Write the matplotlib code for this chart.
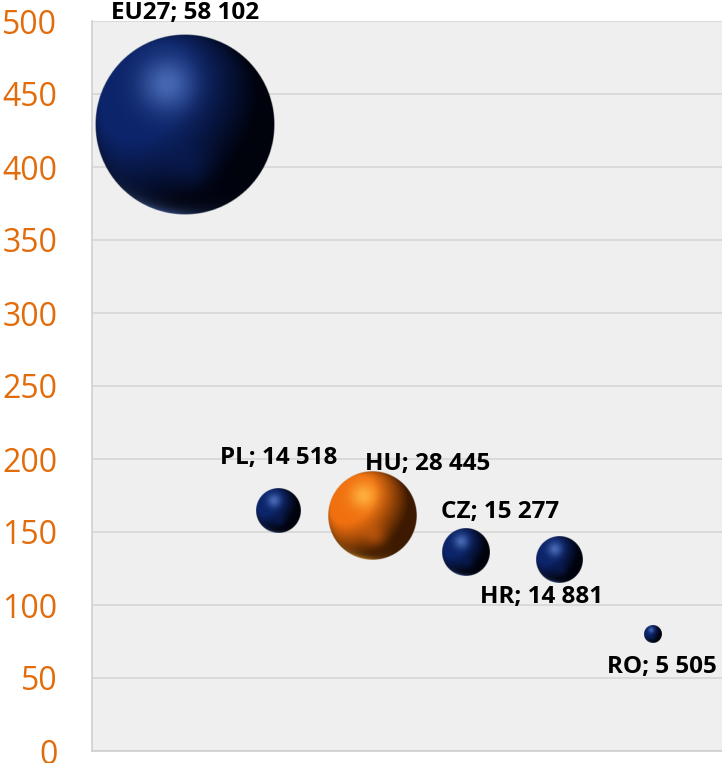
import numpy as np
import matplotlib
matplotlib.use('Agg')
from matplotlib import pyplot as plt

countries = ['EU27', 'PL', 'HU', 'CZ', 'HR', 'RO']
values = [429, 165, 161, 136, 131, 79.5]
sizes = [58102, 14518, 28445, 15277, 14881, 5505]
xpos = [1, 2, 3, 4, 5, 6]
highlight = 'HU'

yticks = [0, 50, 100, 150, 200, 250, 300, 350, 400, 450, 500]

# label offsets in pixels from bubble centre
offsets = [(0, 112), (0, 52), (55, 52), (34, 40), (-18, -37), (9, -32)]

navy = dict(base=np.array([12, 36, 105]) / 255, light=np.array([75, 110, 185]) / 255,
            dark=np.array([0, 2, 12]) / 255)
orange = dict(base=np.array([240, 112, 15]) / 255, light=np.array([255, 180, 65]) / 255,
              dark=np.array([60, 25, 0]) / 255)


def sphere(col, n=300):
    u = np.linspace(-1, 1, n)
    X, Y = np.meshgrid(u, u)
    R2 = X**2 + Y**2
    Z = np.sqrt(np.clip(1 - R2, 0, 1))
    L = np.array([-0.55, 0.45, 0.70])
    L = L / np.linalg.norm(L)
    d = np.clip(X * L[0] + Y * L[1] + Z * L[2], 0, 1)
    f = np.clip(d * 1.25, 0, 1) ** 1.3
    rgb = col['dark'][None, None, :] + (col['base'] - col['dark'])[None, None, :] * f[..., None]
    diff = (col['light'] - col['base'])[None, None, :]
    spec = np.exp(-((X + 0.2)**2 + (Y - 0.45)**2) / 0.09)
    rgb = rgb + diff * spec[..., None] * 0.9
    # soft reflection low in the ball
    refl = np.exp(-((X - 0.1)**2 + (Y + 0.5)**2) / 0.06)
    rgb = rgb + (col['base'] - col['dark'])[None, None, :] * refl[..., None] * 0.25
    # lighter rim along the lower left edge
    rim = np.clip(R2, 0, 1) ** 6 * np.clip(-Y - 0.2, 0, 1) * np.exp(-(X + 0.3)**2 / 0.25)
    rgb = rgb + (col['light'] - col['dark'])[None, None, :] * rim[..., None] * 0.8
    rgb = np.clip(rgb, 0, 1)
    a = np.clip((1 - np.sqrt(R2)) * n / 2, 0, 1)
    return np.dstack([rgb, a])


W, H = 722, 763
fig = plt.figure(figsize=(W / 100, H / 100), dpi=100)
ax = fig.add_axes([92 / W, 12 / H, (W - 92) / W, 730 / H])
ax.set_facecolor('#EFEFEF')
ax.set_xlim(0, 6.74)
ax.set_ylim(0, 500)
ax.set_yticks(yticks)
ax.set_xticks([])
ax.grid(axis='y', color='#D6D6D6', linewidth=1.2, zorder=0)
ax.set_axisbelow(True)
for s in ['top', 'right']:
    ax.spines[s].set_visible(False)
for s in ['left', 'bottom']:
    ax.spines[s].set_color('#CFCFCF')
    ax.spines[s].set_linewidth(1.2)
ax.tick_params(axis='y', length=0, pad=25, labelsize=23, labelcolor='#E26B0A')
for t in ax.get_yticklabels():
    t.set_fontfamily('Open Sans')

fig.canvas.draw()
inv = ax.transData.inverted()
rmax = 90.0
for c, x, y, s, (dx, dy) in zip(countries, xpos, values, sizes, offsets):
    r = rmax * s / max(sizes)
    cx, cy = ax.transData.transform((x, y))
    x0, y0 = inv.transform((cx - r, cy - r))
    x1, y1 = inv.transform((cx + r, cy + r))
    img = sphere(orange if c == highlight else navy)
    ax.imshow(img, extent=[x0, x1, y0, y1], origin='lower', aspect='auto',
              interpolation='bilinear', zorder=3)
    lab = c + '; ' + format(s, ',').replace(',', ' ')
    ax.annotate(lab, (x, y), xytext=(dx, dy), textcoords='offset pixels',
                ha='center', va='center', fontsize=17.5, fontweight='bold',
                fontfamily='Open Sans', color='black', zorder=4,
                annotation_clip=False)

ax.set_xlim(0, 6.74)
ax.set_ylim(0, 500)
fig.savefig('out.png', dpi=100)
